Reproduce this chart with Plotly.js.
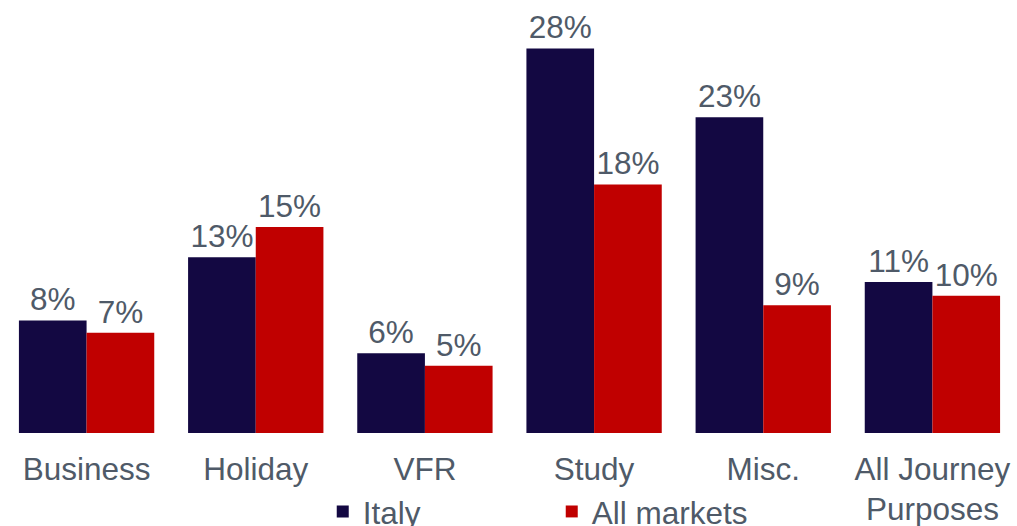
<!DOCTYPE html>
<html>
<head>
<meta charset="utf-8">
<script src="https://cdn.plot.ly/plotly-3.0.1.min.js"></script>
<style>html,body{margin:0;padding:0;background:#fff;}#chart{width:1017px;height:526px;}</style>
</head>
<body>
<div id="chart"></div>
<script>
var categories = ["Business", "Holiday", "VFR", "Study", "Misc.", "All Journey<br>Purposes"];
var italy = [8.2, 12.8, 5.8, 28.0, 23.0, 11.0];
var allMarkets = [7.3, 15.0, 4.9, 18.1, 9.3, 10.0];
var seriesNames = ["Italy", "All markets"];
var textColor = "#4f5a68";
var fontFam = "'Liberation Sans', Arial, sans-serif";

var traces = [
  {type: "bar", name: seriesNames[0], x: categories, y: italy,
   marker: {color: "#130842", line: {width: 0}},
   texttemplate: "%{y:.0f}%", textposition: "outside", cliponaxis: false, constraintext: "none",
   textfont: {family: fontFam, size: 31.5, color: textColor}, hoverinfo: "none"},
  {type: "bar", name: seriesNames[1], x: categories, y: allMarkets,
   marker: {color: "#c00000", line: {width: 0}},
   texttemplate: "%{y:.0f}%", textposition: "outside", cliponaxis: false, constraintext: "none",
   textfont: {family: fontFam, size: 31.5, color: textColor}, hoverinfo: "none"}
];

var layout = {
  width: 1017, height: 526,
  margin: {l: 2, r: 0, t: 21, b: 93, autoexpand: false},
  paper_bgcolor: "#ffffff", plot_bgcolor: "#ffffff",
  barmode: "group", bargap: 0.2, bargroupgap: 0,
  font: {family: fontFam, size: 31.5, color: textColor},
  xaxis: {type: "category", showgrid: false, zeroline: false, showline: false, ticks: "",
          ticklabelstandoff: 14,
          tickfont: {family: fontFam, size: 31.5, color: textColor}, automargin: false},
  yaxis: {range: [0, 30], visible: false, showgrid: false, zeroline: false, fixedrange: true},
  showlegend: true,
  legend: {orientation: "h", x: 0.316, xanchor: "left", yref: "container", y: 0.079, yanchor: "top",
           font: {family: fontFam, size: 31.5, color: textColor},
           entrywidth: 184, entrywidthmode: "pixels", bgcolor: "rgba(0,0,0,0)", traceorder: "normal"}
};

Plotly.newPlot("chart", traces, layout, {displayModeBar: false, staticPlot: true});
</script>
</body>
</html>
